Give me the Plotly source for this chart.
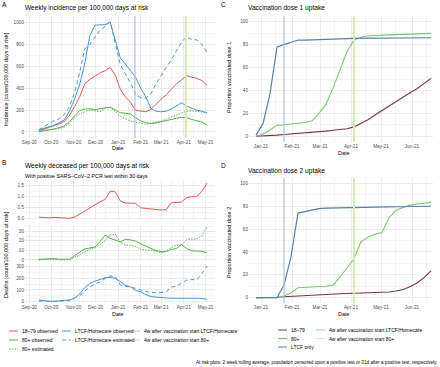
import plotly.graph_objects as go
import pandas as pd

W, H = 440, 367
def px(x): return x / W
def py(y): return 1 - y / H

FONT = "Liberation Sans, Arial, sans-serif"

# ---------------- data ----------------
dates_ab = pd.date_range("2020-09-14", periods=34, freq="7D")
dates_cd = pd.date_range("2020-12-27", periods=26, freq="7D")

# Panel A: weekly incidence per 100,000 days at risk
inc_1879_obs = [10, 25, 40, 55, 75, 95, 150, 230, 320, 440, 480, 510, 540, 560, 590, 520, 390,
                320, 270, 197, 190, 185, 206, 255, 300, 340, 390, 440, 475, 515, 500, 490, 470, 427]
inc_80_obs = [5, 12, 20, 28, 40, 55, 95, 150, 195, 210, 212, 205, 210, 220, 227, 200, 176,
              172, 165, 130, 100, 85, 79, 83, 92, 105, 115, 125, 135, 130, 115, 105, 90, 64]
inc_80_est = [2, 8, 15, 22, 32, 45, 80, 130, 165, 185, 200, 195, 185, 215, 227, 185, 145,
              120, 100, 88, 76, 70, 78, 88, 100, 118, 135, 155, 170, 190, 191, 190, 182, 176]
inc_ltcf_obs = [20, 35, 50, 62, 85, 110, 190, 300, 430, 620, 880, 975, 980, 980, 1005, 845, 675,
                620, 560, 500, 400, 320, 215, 190, 185, 190, 210, 240, 267, 236, 215, 200, 190, 176]
inc_ltcf_est = [20, 50, 80, 105, 120, 160, 230, 360, 540, 760, 800, 870, 930, 965, 1005, 812, 615,
                530, 450, 340, 312, 310, 350, 440, 520, 590, 660, 740, 820, 870, 845, 842, 800, 730]

# Panel B: weekly deceased per 100,000 days at risk
dth_1879_obs = [0.05, 0.03, 0.02, 0.04, 0.03, 0.01, 0.0, 0.05, 0.2, 0.32, 0.48, 0.62, 0.76, 0.87, 1.25,
                1.22, 0.8, 0.7, 0.7, 0.69, 0.48, 0.46, 0.44, 0.42, 0.38, 0.4, 0.72, 0.73, 0.75, 0.95,
                1.0, 1.0, 1.25, 1.62]
dth_80_obs = [0.7, 1.2, 1.7, 1.5, 0.7, 0.5, 0.7, 4.5, 8, 11.5, 12.5, 13.5, 19, 26, 22.5, 21, 19,
              21.5, 21, 19.5, 17, 14, 12, 10, 8.6, 8.7, 11, 12, 16, 12, 9.5, 9.3, 9, 7.6]
dth_80_est = [0, 0.5, 0.7, 0.5, 0.2, 0, 0.5, 2.5, 5.5, 8.5, 11, 13, 16, 20, 26, 27, 18,
              15.5, 15.5, 14, 11, 10.5, 10.3, 9, 7.6, 9.5, 13, 15.5, 15.5, 21, 21.5, 22, 25, 35]
dth_ltcf_obs = [14, 7, 2, 3, 6, 10, 15, 28, 65, 120, 155, 175, 190, 205, 208, 200, 170,
                140, 128, 95, 85, 60, 43, 38, 34, 32, 30, 29, 29, 29, 29, 29, 28, 20]
dth_ltcf_est = [5, 3, 2, 3, 4, 5, 10, 32, 50, 90, 125, 150, 170, 198, 220, 214, 143,
                132, 125, 114, 100, 88, 78, 77, 77, 86, 125, 133, 160, 185, 190, 186, 243, 306]

# Panel C: proportion vaccinated dose 1 (%)
d1_1879 = [0, 0.2, 0.5, 1, 1.6, 2, 2.5, 3, 3.3, 3.8, 4.5, 5.2, 5.8, 6.5, 8.2, 11, 14.5, 18.5,
           22.5, 26.5, 30.5, 34.5, 38, 41.5, 46, 50.5]
d1_80 = [0, 2, 5.5, 9.7, 10, 10.5, 11, 12, 13.5, 20, 28, 42, 58, 74, 84, 86.5, 87.5, 88,
         88.3, 88.5, 88.7, 89, 89.2, 89.4, 89.6, 89.8]
d1_ltcf = [1, 11, 37, 78, 80, 82, 84, 84, 84.3, 84.5, 84.7, 85, 85, 85.2, 85.4, 85.5, 85.6, 85.7,
           85.7, 85.8, 85.8, 85.9, 85.9, 86, 86, 86]

# Panel D: proportion vaccinated dose 2 (%)
d2_1879 = [0, 0, 0.1, 0.4, 0.8, 1.2, 1.6, 2, 2.4, 2.8, 3.1, 3.3, 3.5, 3.7, 3.9, 4.1, 4.3, 4.4,
           4.6, 5, 5.8, 7.2, 9.5, 12.8, 17.5, 23.5]
d2_80 = [0, 0, 0, 0, 1.5, 4.4, 8.7, 9, 9.3, 9.6, 10, 11, 18, 26, 34, 49, 53, 55.5,
         57, 70, 76.5, 79, 81, 82, 82.7, 83.4]
d2_ltcf = [0, 0, 0, 0, 11, 36, 74, 75.5, 77, 78, 78.3, 78.5, 78.7, 78.9, 79, 79.1, 79.2, 79.3,
           79.4, 79.5, 79.6, 79.7, 79.8, 79.9, 80, 80]

vline_ltcf = "2021-01-24"
vline_80 = "2021-04-04"

# ---------------- styles ----------------
C_RED, C_GREEN, C_BLUE = "#df5a5a", "#55b04e", "#4d94d8"
C_DRED, C_LGREEN, C_SBLUE = "#7b3344", "#7cc671", "#5a7fa8"
V_BLUE, V_GREEN = "#a9c1e2", "#d3ebb6"
DASH = "4px,3px"
DOT = "1.4px,1.4px"
GRID = "#ebebeb"
MINOR = "#f4f4f4"
TICKC = "#4d4d4d"

fig = go.Figure()

def add(x, y, color, xa, ya, dash=None, width=1.0):
    fig.add_trace(go.Scatter(x=x, y=y, mode="lines", xaxis=xa, yaxis=ya, showlegend=False,
                             line=dict(color=color, width=width, dash=dash), hoverinfo="skip"))

# A
add(dates_ab, inc_1879_obs, C_RED, "x", "y")
add(dates_ab, inc_80_obs, C_GREEN, "x", "y")
add(dates_ab, inc_80_est, C_GREEN, "x", "y", DOT)
add(dates_ab, inc_ltcf_obs, C_BLUE, "x", "y")
add(dates_ab, inc_ltcf_est, C_BLUE, "x", "y", DASH)
# B facets
add(dates_ab, dth_1879_obs, C_RED, "x3", "y3")
add(dates_ab, dth_80_obs, C_GREEN, "x4", "y4")
add(dates_ab, dth_80_est, C_GREEN, "x4", "y4", DOT)
add(dates_ab, dth_ltcf_obs, C_BLUE, "x5", "y5")
add(dates_ab, dth_ltcf_est, C_BLUE, "x5", "y5", DASH)
# C
add(dates_cd, d1_1879, C_DRED, "x2", "y2", width=1.1)
add(dates_cd, d1_80, C_LGREEN, "x2", "y2", width=1.1)
add(dates_cd, d1_ltcf, C_SBLUE, "x2", "y2", width=1.2)
# D
add(dates_cd, d2_1879, C_DRED, "x6", "y6", width=1.1)
add(dates_cd, d2_80, C_LGREEN, "x6", "y6", width=1.1)
add(dates_cd, d2_ltcf, C_SBLUE, "x6", "y6", width=1.2)

tickfont = dict(family=FONT, size=4.7, color=TICKC)

def month_mid(start, n):
    return [d + pd.Timedelta(days=14) for d in pd.date_range(start, periods=n, freq="MS")]

def xax(domain, rng, anchor, start, n, labels=True):
    return dict(domain=domain, range=rng, anchor=anchor, type="date", automargin=False,
                tickmode="array", tickvals=list(pd.date_range(start, periods=n, freq="MS")),
                tickformat="%b-%y", showticklabels=labels, tickfont=tickfont,
                showgrid=True, gridcolor=GRID, gridwidth=0.8, zeroline=False, showline=False,
                ticks="", minor=dict(tickvals=month_mid(start, n), showgrid=True,
                                     gridcolor=MINOR, gridwidth=0.6, ticks=""))

def yax(domain, rng, anchor, vals, minor, text=None, suffix=""):
    d = dict(domain=domain, range=rng, anchor=anchor, tickmode="array", tickvals=vals,
             automargin=False, showticklabels=True,
             tickfont=tickfont, showgrid=True, gridcolor=GRID, gridwidth=0.8,
             zeroline=False, showline=False, ticks="", ticksuffix=suffix,
             minor=dict(tickvals=minor, showgrid=True, gridcolor=MINOR, gridwidth=0.6, ticks=""))
    if text:
        d["ticktext"] = text
    return d

AB_RANGE = ["2020-08-26", "2021-05-14"]
CD_RANGE = ["2020-12-20", "2021-06-22"]
xa_dom = [px(25), px(215)]
xc_dom = [px(249), px(433)]

fig.update_layout(
    template="none",
    width=W, height=H, margin=dict(l=0, r=0, t=0, b=0, pad=0),
    paper_bgcolor="white", plot_bgcolor="white",
    font=dict(family=FONT, color="black"),
    xaxis=xax(xa_dom, AB_RANGE, "y", "2020-09-01", 9),
    yaxis=yax([py(138), py(16)], [-55, 1060], "x", [0, 200, 400, 600, 800, 1000],
              [100, 300, 500, 700, 900]),
    xaxis2=xax(xc_dom, CD_RANGE, "y2", "2021-01-01", 6),
    yaxis2=yax([py(142), py(16)], [-5, 105], "x2", [0, 20, 40, 60, 80, 100],
               [10, 30, 50, 70, 90], suffix="%"),
    xaxis3=xax(xa_dom, AB_RANGE, "y3", "2020-09-01", 9, labels=False),
    yaxis3=yax([py(220), py(181)], [-0.08, 1.72], "x3", [0, 0.5, 1.0, 1.5],
               [0.25, 0.75, 1.25], text=["0.0", "0.5", "1.0", "1.5"]),
    xaxis4=xax(xa_dom, AB_RANGE, "y4", "2020-09-01", 9, labels=False),
    yaxis4=yax([py(261.7), py(224.5)], [-1.8, 37], "x4", [0, 10, 20, 30], [5, 15, 25, 35]),
    xaxis5=xax(xa_dom, AB_RANGE, "y5", "2020-09-01", 9),
    yaxis5=yax([py(303.4), py(264.2)], [-15, 321], "x5", [0, 100, 200, 300], [50, 150, 250]),
    xaxis6=xax(xc_dom, CD_RANGE, "y6", "2021-01-01", 6),
    yaxis6=yax([py(303.4), py(177.7)], [-5, 105], "x6", [0, 20, 40, 60, 80, 100],
               [10, 30, 50, 70, 90], suffix="%"),
)

shapes = []
for xa, ya in [("x", "y"), ("x2", "y2"), ("x6", "y6")]:
    shapes.append(dict(type="line", xref=xa, yref=ya + " domain", x0=vline_ltcf, x1=vline_ltcf,
                       y0=0, y1=1, line=dict(color=V_BLUE, width=1.2), layer="above"))
    shapes.append(dict(type="line", xref=xa, yref=ya + " domain", x0=vline_80, x1=vline_80,
                       y0=0, y1=1, line=dict(color=V_GREEN, width=2), layer="above"))

ann = []
def text(x, y, s, size, color="black", xanchor="left", angle=0):
    ann.append(dict(x=px(x), y=py(y), xref="paper", yref="paper", text=s, showarrow=False,
                    xanchor=xanchor, yanchor="middle", textangle=angle, borderpad=0,
                    font=dict(family=FONT, size=size, color=color)))

# panel letters and titles
text(1, 5, "A", 6.5)
text(220, 5, "C", 6.5)
text(1, 162, "B", 6.5)
text(220, 165, "D", 6.5)
text(24, 8.5, "Weekly incidence per 100,000 days at risk", 6.6)
text(247, 8.5, "Vaccination dose 1 uptake", 6.6)
text(24, 166, "Weekly deceased per 100,000 days at risk", 6.6)
text(24, 175.5, "With positive SARS\u2013CoV\u20132 PCR test within 30 days", 5.3)
text(247, 171, "Vaccination dose 2 uptake", 6.6)
# axis titles
text(117, 148, "Date", 5.4, xanchor="center")
text(117, 314, "Date", 5.4, xanchor="center")
text(343, 153, "Date", 5.4, xanchor="center")
text(343, 314, "Date", 5.4, xanchor="center")
text(6, 79, "Incidence [cases/100,000 days at risk]", 5.5, xanchor="center", angle=-90)
text(6, 255, "Deaths [count/100,000 days at risk]", 5.5, xanchor="center", angle=-90)
text(229, 78, "Proportion vaccinated dose 1", 5.5, xanchor="center", angle=-90)
text(229, 243, "Proportion vaccinated dose 2", 5.5, xanchor="center", angle=-90)

# legends (keys drawn as short line samples)
def key(x0, y, color, dash=None, width=1.0):
    shapes.append(dict(type="line", xref="paper", yref="paper", x0=px(x0), x1=px(x0 + 9),
                       y0=py(y), y1=py(y), line=dict(color=color, width=width, dash=dash)))

LEG = 5.0
rows_l = [331, 340, 349]
rows_r = [330, 338.5, 347]
left_items = [
    (9, rows_l[0], C_RED, None, "18\u201379 observed"),
    (9, rows_l[1], C_GREEN, None, "80+ observed"),
    (9, rows_l[2], C_GREEN, DOT, "80+ estimated"),
    (62, rows_l[0], C_BLUE, None, "LTCF/Homecare observed"),
    (62, rows_l[1], C_BLUE, DASH, "LTCF/Homecare estimated"),
    (131, rows_l[0], V_BLUE, None, "4w after vaccination start LTCF/Homecare"),
    (131, rows_l[1], V_GREEN, None, "4w after vaccination start 80+"),
]
right_items = [
    (278, rows_r[0], C_DRED, None, "18\u201379"),
    (278, rows_r[1], C_LGREEN, None, "80+"),
    (278, rows_r[2], C_SBLUE, None, "LTCF only"),
    (316, rows_r[0], V_BLUE, None, "4w after vaccination start LTCF/Homecare"),
    (316, rows_r[1], V_GREEN, None, "4w after vaccination start 80+"),
]
for x0, y, c, d, s in left_items + right_items:
    key(x0, y, c, d)
    text(x0 + 11.5, y, s, LEG)

text(438, 362.5, "At risk plots: 2 week rolling average, population censored upon a positive test "
     "or 31d after a positive test, respectively.", 4.65, xanchor="right")

fig.update_layout(shapes=shapes, annotations=ann)
fig.write_html("out.html", config={"displayModeBar": False},
               post_script="document.body.style.margin='0';document.body.style.padding='0';")
